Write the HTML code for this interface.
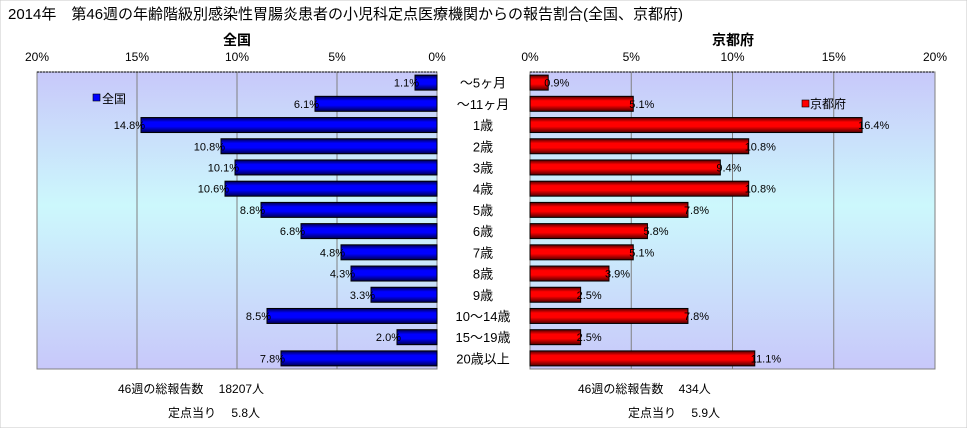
<!DOCTYPE html>
<html><head><meta charset="utf-8"><style>
body{margin:0;background:#fff;}
svg text{font-family:"Liberation Sans","Noto Sans CJK JP",sans-serif;}
</style></head><body>
<svg id="c" width="967" height="428" xmlns="http://www.w3.org/2000/svg">
<defs>
<linearGradient id="bg" x1="0" y1="0" x2="0" y2="1">
<stop offset="0" stop-color="#c8c8fa"/><stop offset="0.45" stop-color="#ccf8fc"/><stop offset="1" stop-color="#c8c8fa"/></linearGradient>
<linearGradient id="gb" x1="0" y1="0" x2="0" y2="1">
<stop offset="0" stop-color="#000050"/><stop offset="0.3" stop-color="#0000ff"/><stop offset="0.6" stop-color="#0000ff"/><stop offset="1" stop-color="#000050"/></linearGradient>
<linearGradient id="gr" x1="0" y1="0" x2="0" y2="1">
<stop offset="0" stop-color="#500000"/><stop offset="0.3" stop-color="#ff0000"/><stop offset="0.6" stop-color="#ff0000"/><stop offset="1" stop-color="#500000"/></linearGradient>
</defs>
<rect x="0" y="0" width="967" height="428" fill="#fff" stroke="#c8c8c8"/>
<text x="8" y="19" font-size="15">2014年　第46週の年齢階級別感染性胃腸炎患者の小児科定点医療機関からの報告割合(全国、京都府)</text>
<text x="237" y="45" font-size="14" font-weight="bold" text-anchor="middle">全国</text>
<text x="733" y="45" font-size="14" font-weight="bold" text-anchor="middle">京都府</text>
<g id="L"></g><g id="R"></g><g id="cats"></g>
<rect x="93" y="94" width="7" height="7" fill="#0000ff" stroke="#000" stroke-width="0.6"/>
<text x="102" y="103" font-size="12">全国</text>
<rect x="802" y="100" width="7" height="7" fill="#ff0000" stroke="#000" stroke-width="0.6"/>
<text x="810" y="108" font-size="12">京都府</text>
<text x="118" y="393" font-size="12">46週の総報告数　  18207人</text>
<text x="168" y="417" font-size="12">定点当り　 5.8人</text>
<text x="578" y="393" font-size="12">46週の総報告数　  434人</text>
<text x="628" y="417" font-size="12">定点当り　 5.9人</text>
</svg>
<script>
const categories=["～5ヶ月","～11ヶ月","1歳","2歳","3歳","4歳","5歳","6歳","7歳","8歳","9歳","10～14歳","15～19歳","20歳以上"];
const national=[1.1,6.1,14.8,10.8,10.1,10.6,8.8,6.8,4.8,4.3,3.3,8.5,2.0,7.8];
const kyoto=[0.9,5.1,16.4,10.8,9.4,10.8,7.8,5.8,5.1,3.9,2.5,7.8,2.5,11.1];
const ticks=[0,5,10,15,20];
const NS="http://www.w3.org/2000/svg";
const plotTop=72,plotBot=369,rowH=(plotBot-plotTop)/categories.length;
function mk(t,a,p){const e=document.createElementNS(NS,t);for(const k in a)e.setAttribute(k,a[k]);(p||document.getElementById('c')).appendChild(e);return e;}
const yC=i=>plotTop+rowH*(i+0.5);
function panel(gid,x0,x1,dir,vals,grad,nm){
  const g=document.getElementById(gid);
  const zero=dir<0?x1:x0, sc=(x1-x0)/20;
  const xs=v=>zero+dir*v*sc;
  const bgr=mk('rect',{x:x0,y:plotTop,width:x1-x0,height:plotBot-plotTop,fill:'url(#bg)',stroke:'#808080'},g);
  
  
  ticks.forEach(t=>{
    const l=mk('line',{x1:xs(t),x2:xs(t),y1:plotTop,y2:plotBot,stroke:'#808080'},g);
    
    
    const tx=mk('text',{x:xs(t),y:61,'font-size':12,'text-anchor':'middle'},g);
    tx.textContent=t+'%';
    
    
  });
  mk('line',{x1:x0,x2:x1,y1:plotTop,y2:plotTop,stroke:'#000','stroke-dasharray':'2,1'},g);
  vals.forEach((v,i)=>{
    const xa=xs(v),y=yC(i)-7.5;
    const r=mk('rect',{x:Math.min(zero,xa),y:y,width:Math.abs(xa-zero),height:15,fill:grad,stroke:'#000'},g);
    
    
    const t=mk('text',{x:xa-dir*4,y:yC(i)+4,'font-size':11,'text-anchor':dir<0?'end':'start'},g);
    t.textContent=v.toFixed(1)+'%';
    
    
  });
}
panel('L',37,437,-1,national,'url(#gb)','national');
panel('R',530,935,1,kyoto,'url(#gr)','kyoto');
categories.forEach((c,i)=>{
  const t=mk('text',{x:483,y:yC(i)+5,'font-size':13,'text-anchor':'middle'},document.getElementById('cats'));
  t.textContent=c;
  
  
});
</script>
</body></html>
